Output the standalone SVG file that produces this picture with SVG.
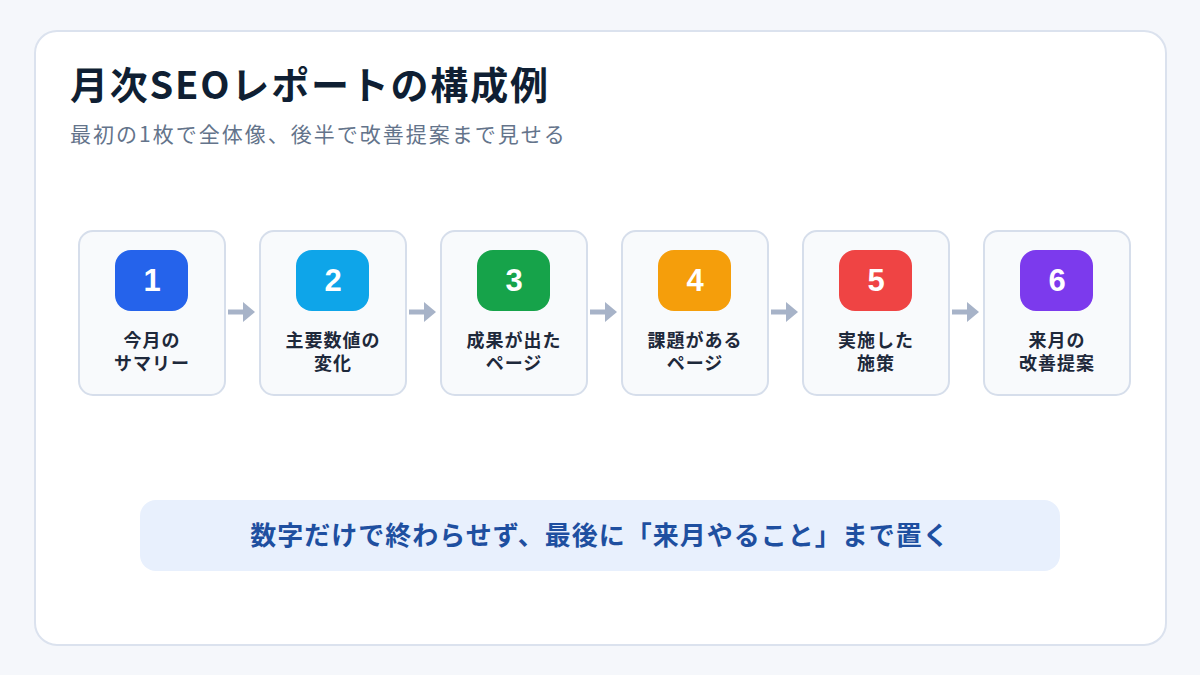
<svg xmlns="http://www.w3.org/2000/svg" width="1200" height="675" viewBox="0 0 1200 675">
<defs>
<style>
text{font-family:"Noto Sans CJK JP","Noto Sans",sans-serif}
.card{fill:#f8fafc;stroke:#d6deeb;stroke-width:2}
.num{fill:#fff;font-family:"Liberation Sans","Noto Sans CJK JP",sans-serif;font-weight:700;font-size:31px;text-anchor:middle}
.lbl{fill:#1e293b;font-weight:700;font-size:18px;letter-spacing:1px;text-anchor:middle}
.arr{stroke:#a7b3c8;stroke-width:5;fill:none}
</style>
<marker id="ah" markerWidth="4" markerHeight="4" refX="0" refY="2" orient="auto" markerUnits="strokeWidth"><path d="M0,0 L2.4,2 L0,4 Z" fill="#a7b3c8"/></marker>
</defs>
<rect width="1200" height="675" fill="#f5f7fb"/>
<rect x="35" y="31" width="1131" height="614" rx="22" fill="#fff" stroke="#dbe2ee" stroke-width="2"/>
<text x="70" y="99" font-size="38" font-weight="700" letter-spacing="1.8" fill="#0f1f33">月次SEOレポートの構成例</text>
<text x="70" y="142" font-size="21" letter-spacing="2" fill="#64748b">最初の1枚で全体像、後半で改善提案まで見せる</text>
<g id="connectors">
<line class="arr" x1="228" y1="312" x2="243" y2="312" marker-end="url(#ah)"/>
<line class="arr" x1="409" y1="312" x2="424" y2="312" marker-end="url(#ah)"/>
<line class="arr" x1="590" y1="312" x2="605" y2="312" marker-end="url(#ah)"/>
<line class="arr" x1="771" y1="312" x2="786" y2="312" marker-end="url(#ah)"/>
<line class="arr" x1="952" y1="312" x2="967" y2="312" marker-end="url(#ah)"/>
</g>
<g id="node1"><rect class="card" x="79" y="231" width="146" height="164" rx="14"/><rect x="115" y="250" width="73" height="61" rx="16" fill="#2563eb"/><text class="num" x="152" y="291">1</text><text class="lbl" x="152" y="347">今月の</text><text class="lbl" x="152" y="370">サマリー</text></g>
<g id="node2"><rect class="card" x="260" y="231" width="146" height="164" rx="14"/><rect x="296" y="250" width="73" height="61" rx="16" fill="#0ea5e9"/><text class="num" x="333" y="291">2</text><text class="lbl" x="333" y="347">主要数値の</text><text class="lbl" x="333" y="370">変化</text></g>
<g id="node3"><rect class="card" x="441" y="231" width="146" height="164" rx="14"/><rect x="477" y="250" width="73" height="61" rx="16" fill="#16a34a"/><text class="num" x="514" y="291">3</text><text class="lbl" x="514" y="347">成果が出た</text><text class="lbl" x="514" y="370">ページ</text></g>
<g id="node4"><rect class="card" x="622" y="231" width="146" height="164" rx="14"/><rect x="658" y="250" width="73" height="61" rx="16" fill="#f59e0b"/><text class="num" x="695" y="291">4</text><text class="lbl" x="695" y="347">課題がある</text><text class="lbl" x="695" y="370">ページ</text></g>
<g id="node5"><rect class="card" x="803" y="231" width="146" height="164" rx="14"/><rect x="839" y="250" width="73" height="61" rx="16" fill="#ef4444"/><text class="num" x="876" y="291">5</text><text class="lbl" x="876" y="347">実施した</text><text class="lbl" x="876" y="370">施策</text></g>
<g id="node6"><rect class="card" x="984" y="231" width="146" height="164" rx="14"/><rect x="1020" y="250" width="73" height="61" rx="16" fill="#7c3aed"/><text class="num" x="1057" y="291">6</text><text class="lbl" x="1057" y="347">来月の</text><text class="lbl" x="1057" y="370">改善提案</text></g>
<g id="banner"><rect x="140" y="500" width="920" height="71" rx="16" fill="#e8f0fd"/><text x="600" y="545" font-size="26" font-weight="700" letter-spacing="1" fill="#1e4fa0" text-anchor="middle">数字だけで終わらせず、最後に「来月やること」まで置く</text></g>
</svg>
